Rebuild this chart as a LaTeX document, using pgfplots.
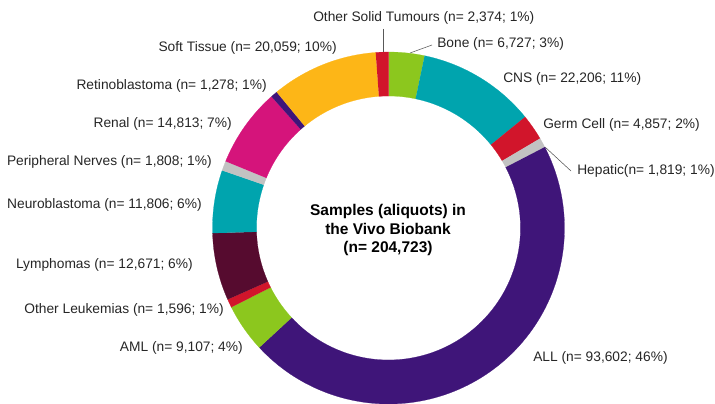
\documentclass[border=0pt]{standalone}
\usepackage{pgfplots}
\pgfplotsset{compat=1.18}
\usepackage{pgfplotstable}
\usepackage{fontspec}
\setmainfont{Liberation Sans}
\definecolor{lime}{HTML}{8CC71E}
\definecolor{teal}{HTML}{00A4AE}
\definecolor{red}{HTML}{D1152B}
\definecolor{grey}{HTML}{C2C2C2}
\definecolor{dpurple}{HTML}{3F1579}
\definecolor{maroon}{HTML}{560B2F}
\definecolor{magenta}{HTML}{D5147B}
\definecolor{orange}{HTML}{FDB617}
\definecolor{txt}{HTML}{262626}
\pgfplotstableread[col sep=comma]{
name,n,color
Bone,6727,lime
CNS,22206,teal
Germ Cell,4857,red
Hepatic,1819,grey
ALL,93602,dpurple
AML,9107,lime
Other Leukemias,1596,red
Lymphomas,12671,maroon
Neuroblastoma,11806,teal
Peripheral Nerves,1808,grey
Renal,14813,magenta
Retinoblastoma,1278,dpurple
Soft Tissue,20059,orange
Other Solid Tumours,2374,red
}\data
\begin{document}
\begin{tikzpicture}
\begin{axis}[
  scale only axis, width=7.15in, height=4.03in,
  xmin=0, xmax=715, ymin=0, ymax=403, y dir=reverse,
  hide axis, clip=false,
]
\pgfplotstablegetrowsof{\data}
\pgfmathtruncatemacro\N{\pgfplotsretval-1}
\def\cum{0}
\pgfplotsforeachungrouped \i in {0,...,\N}{%
  \pgfplotstablegetelem{\i}{n}\of\data \let\val\pgfplotsretval
  \pgfplotstablegetelem{\i}{color}\of\data \let\col\pgfplotsretval
  \edef\aS{\fpeval{360*\cum/204723}}%
  \edef\cum{\fpeval{\cum+\val}}%
  \edef\aE{\fpeval{360*\cum/204723}}%
  \edef\doplot{\noexpand\addplot[fill=\col, draw=\col, line width=0.15pt, domain=0:3, samples=301, variable=\noexpand\t]
    ({388.5+(176+(132-176)*min(max(\noexpand\t-1,0),1))*sin(\aS+(\aE-\aS)*(min(\noexpand\t,1)-max(\noexpand\t-2,0)))},
     {228-(176+(132-176)*min(max(\noexpand\t-1,0),1))*cos(\aS+(\aE-\aS)*(min(\noexpand\t,1)-max(\noexpand\t-2,0)))});}%
  \doplot
}
\begin{scope}[every node/.style={font=\fontsize{9.95}{11}\selectfont, text=txt, inner sep=0pt}]
\node[anchor=west] at (axis cs:313,18) {Other Solid Tumours (n= 2,374; 1\%)};
\node[anchor=west] at (axis cs:437,44) {Bone (n= 6,727; 3\%)};
\node[anchor=west] at (axis cs:503,79) {CNS (n= 22,206; 11\%)};
\node[anchor=west] at (axis cs:543,125) {Germ Cell (n= 4,857; 2\%)};
\node[anchor=west] at (axis cs:577,171) {Hepatic(n= 1,819; 1\%)};
\node[anchor=west] at (axis cs:533,358) {ALL (n= 93,602; 46\%)};
\node[anchor=east] at (axis cs:337,48) {Soft Tissue (n= 20,059; 10\%)};
\node[anchor=east] at (axis cs:267,86) {Retinoblastoma (n= 1,278; 1\%)};
\node[anchor=east] at (axis cs:232,124) {Renal (n= 14,813; 7\%)};
\node[anchor=east] at (axis cs:212,162) {Peripheral Nerves (n= 1,808; 1\%)};
\node[anchor=east] at (axis cs:202,205) {Neuroblastoma (n= 11,806; 6\%)};
\node[anchor=east] at (axis cs:193,265) {Lymphomas (n= 12,671; 6\%)};
\node[anchor=east] at (axis cs:224,310) {Other Leukemias (n= 1,596; 1\%)};
\node[anchor=east] at (axis cs:243,348) {AML (n= 9,107; 4\%)};
\end{scope}
\draw[gray!70!black, line width=0.4pt] (axis cs:383,29) -- (axis cs:383,52);
\draw[gray!70!black, line width=0.4pt] (axis cs:410,53) -- (axis cs:432,45);
\draw[gray!70!black, line width=0.4pt] (axis cs:545,147) -- (axis cs:571,171);
\node[align=center, font=\bfseries\fontsize{11.2}{13.3}\selectfont, text=black] at (axis cs:388,230)
  {Samples (aliquots) in\\the Vivo Biobank\\(n= 204,723)};
\end{axis}
\pgfresetboundingbox
\path (0,0) rectangle (7.15in,4.03in);
\end{tikzpicture}
\end{document}
